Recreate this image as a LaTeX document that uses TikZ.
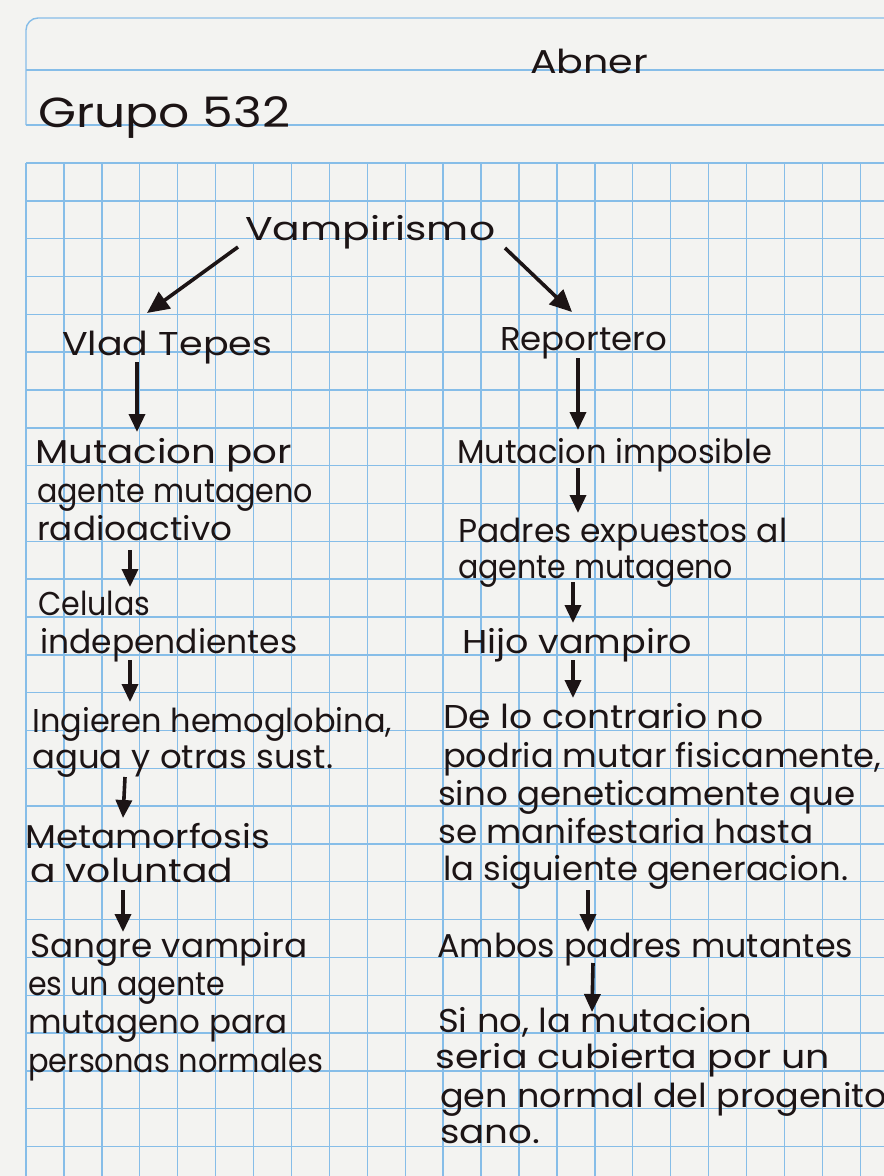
\documentclass[tikz,border=0pt]{standalone}
\usepackage{fontspec}
\setmainfont{Poppins}
\usetikzlibrary{arrows.meta}
\definecolor{paper}{HTML}{F3F3F1}
\definecolor{rulecol}{HTML}{86BDE8}
\definecolor{ink}{HTML}{1C1415}
% stretch a line of text to a given width (in pt), keeping its height
\newcommand{\handline}[2]{\resizebox{#1pt}{\height}{#2}}

\begin{document}
\begin{tikzpicture}[x=1pt,y=-1pt,
  hand/.style={anchor=base west, inner sep=0pt, text=ink,
    font=\fontsize{33}{33}\selectfont},
  bighand/.style={hand, font=\fontsize{42}{42}\selectfont},
  gridline/.style={draw=rulecol, line width=1.4pt},
  arr/.style={draw=ink, line width=3.6pt,
    -{Triangle[width=16pt,length=18pt]}},
  bigarr/.style={arr, -{Triangle[width=20pt,length=22pt]}},
]
\fill[paper] (0,0) rectangle (884,1176);
\useasboundingbox (0,0) rectangle (884,1176);

% ruled header
\draw[gridline, rounded corners=12pt] (884,18) -- (26,18) -- (26,125);
\draw[gridline] (26,70) -- (884,70);
\draw[gridline] (26,125) -- (884,125);

% squared grid
\foreach \i in {0,...,26}
  \draw[gridline] (26,{163+37.83*\i}) -- (884,{163+37.83*\i});
\foreach \k in {0,...,22}
  \draw[gridline] ({26+37.92*\k},163) -- ({26+37.92*\k},1176);

% header texts
\node[bighand] (grupo) at (38,127) {\handline{252}{Grupo 532}};
\node[hand] (abner) at (530,73) {\handline{118}{Abner}};

% title and branches
\node[hand] (vamp) at (245,240) {\handline{250}{Vampirismo}};
\node[hand] (vlad) at (62,355) {\handline{210}{Vlad Tepes}};
\node[hand] (rep) at (500,350) {\handline{167}{Reportero}};

% left column
\node[hand] (l1a) at (35,463) {\handline{257}{Mutacion por}};
\node[hand] (l1b) at (37,502) {\handline{276}{agente mutageno}};
\node[hand] (l1c) at (37,540) {\handline{195}{radioactivo}};
\node[hand] (l2a) at (38,615) {\handline{112}{Celulas}};
\node[hand] (l2b) at (40,653) {\handline{257}{independientes}};
\node[hand] (l3a) at (32,732) {\handline{360}{Ingieren hemoglobina,}};
\node[hand] (l3b) at (32,768) {\handline{301}{agua y otras sust.}};
\node[hand] (l4a) at (25,848) {\handline{245}{Metamorfosis}};
\node[hand] (l4b) at (30,882) {\handline{203}{a voluntad}};
\node[hand] (l5a) at (30,957) {\handline{277}{Sangre vampira}};
\node[hand] (l5b) at (28,995) {\handline{197}{es un agente}};
\node[hand] (l5c) at (28,1033) {\handline{259}{mutageno para}};
\node[hand] (l5d) at (28,1072) {\handline{295}{personas normales}};

% right column
\node[hand] (r1) at (457,463) {\handline{315}{Mutacion imposible}};
\node[hand] (r2a) at (458,542) {\handline{329}{Padres expuestos al}};
\node[hand] (r2b) at (458,578) {\handline{275}{agente mutageno}};
\node[hand] (r3) at (462,653) {\handline{230}{Hijo vampiro}};
\node[hand] (r4a) at (443,728) {\handline{320}{De lo contrario no}};
\node[hand] (r4b) at (443,767) {\handline{438}{podria mutar fisicamente,}};
\node[hand] (r4c) at (438,805) {\handline{417}{sino geneticamente que}};
\node[hand] (r4d) at (438,843) {\handline{375}{se manifestaria hasta}};
\node[hand] (r4e) at (443,880) {\handline{405}{la siguiente generacion.}};
\node[hand] (r5) at (437,957) {\handline{416}{Ambos padres mutantes}};
\node[hand] (r6a) at (438,1032) {\handline{314}{Si no, la mutacion}};
\node[hand] (r6b) at (435,1068) {\handline{395}{seria cubierta por un}};
\node[hand] (r6c) at (440,1107) {\handline{460}{gen normal del progenitor}};
\node[hand] (r6d) at (440,1143) {\handline{100}{sano.}};

% arrow end points
\coordinate (vs1) at (238,247);  \coordinate (ve1) at (147,313);
\coordinate (vs2) at (505,248);  \coordinate (ve2) at (572,312);
\coordinate (ls1) at (137,362);  \coordinate (le1) at (137,432);
\coordinate (ls2) at (130,550);  \coordinate (le2) at (130,587);
\coordinate (ls3) at (130,660);  \coordinate (le3) at (130,702);
\coordinate (ls4) at (125,777);  \coordinate (le4) at (123,818);
\coordinate (ls5) at (123,890);  \coordinate (le5) at (123,932);
\coordinate (rs1) at (578,358);  \coordinate (re1) at (578,430);
\coordinate (rs2) at (578,468);  \coordinate (re2) at (578,513);
\coordinate (rs3) at (573,582);  \coordinate (re3) at (573,623);
\coordinate (rs4) at (573,660);  \coordinate (re4) at (573,698);
\coordinate (rs5) at (588,890);  \coordinate (re5) at (588,932);
\coordinate (rs6) at (593,963);  \coordinate (re6) at (592,1012);

% arrows
\draw[bigarr] (vs1) -- (ve1);
\draw[bigarr] (vs2) -- (ve2);
\foreach \n in {1,...,5} \draw[arr] (ls\n) -- (le\n);
\foreach \n in {1,...,6} \draw[arr] (rs\n) -- (re\n);
\end{tikzpicture}
\end{document}
